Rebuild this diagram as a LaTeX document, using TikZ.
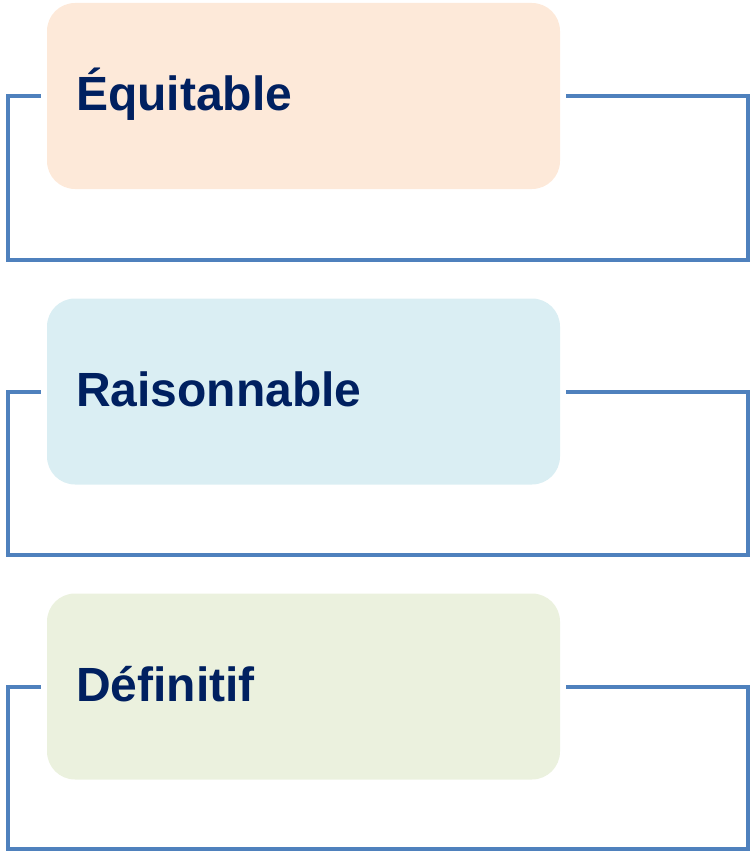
\documentclass[tikz,border=0pt]{standalone}
\usepackage{fontspec}
\setmainfont{Liberation Sans}
\usepackage{tikz}
\definecolor{peach}{HTML}{FDE9D9}
\definecolor{paleblue}{HTML}{DAEEF3}
\definecolor{palegreen}{HTML}{EBF1DE}
\definecolor{framecol}{HTML}{4F81BD}
\definecolor{navy}{HTML}{002060}

\begin{document}
\begin{tikzpicture}[x=1pt, y=-1pt,
  card/.style={rounded corners=28pt, minimum width=513pt, minimum height=186pt,
    text width=455pt, inner xsep=29pt, align=left, text height=29pt, text depth=0pt,
    font=\bfseries\fontsize{48}{56}\selectfont, text=navy},
  frame/.style={draw=framecol, line width=4pt}]
\useasboundingbox (0,0) rectangle (750,851);
% three cards
\node[card, fill=peach] (equ) at (303.5,96) {Équitable};
\node[card, fill=paleblue] (rai) at (303.5,391.5) {Raisonnable};
\node[card, fill=palegreen] (def) at (303.5,686.5) {Définitif};
% brackets round each card
\coordinate (equL) at (8,260);  \coordinate (equR) at (748,260);
\coordinate (raiL) at (8,555);  \coordinate (raiR) at (748,555);
\coordinate (defL) at (8,849);  \coordinate (defR) at (748,849);
\draw[frame] ([xshift=-6pt]equ.west) -| (equL) -- (equR) |- ([xshift=6pt]equ.east);
\draw[frame] ([xshift=-6pt]rai.west) -| (raiL) -- (raiR) |- ([xshift=6pt]rai.east);
\draw[frame] ([xshift=-6pt]def.west) -| (defL) -- (defR) |- ([xshift=6pt]def.east);
\end{tikzpicture}
\end{document}
